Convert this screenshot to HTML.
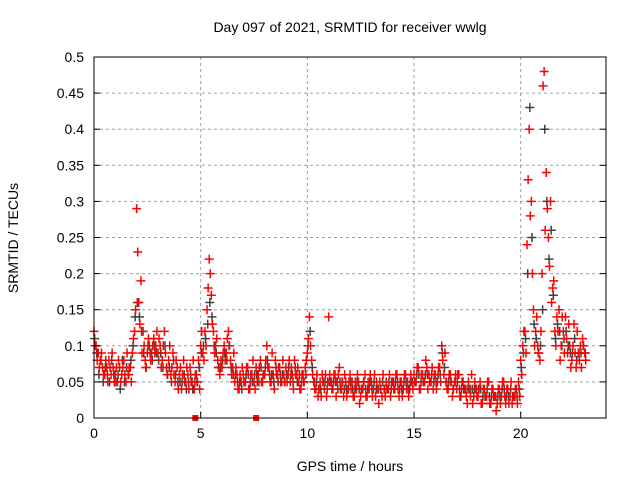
<!DOCTYPE html>
<html><head><meta charset="utf-8"><style>
body{margin:0;background:#fff;}
svg{display:block;font-family:"Liberation Sans",sans-serif;}
</style></head><body>
<svg id="chart" width="640" height="480" viewBox="0 0 640 480">
<rect width="640" height="480" fill="#fff"/>
<text x="350" y="32" font-size="14" text-anchor="middle">Day 097 of 2021, SRMTID for receiver wwlg</text>
<text x="350" y="471" font-size="14" text-anchor="middle">GPS time / hours</text>
<text x="18" y="238" font-size="14" text-anchor="middle" transform="rotate(-90 18 238)">SRMTID / TECUs</text>
<g id="grid"></g><g id="marks"></g><g id="axes"></g>
</svg>
<script>
const xTicks=[0,5,10,15,20];
const yTicks=[0,0.05,0.1,0.15,0.2,0.25,0.3,0.35,0.4,0.45,0.5];
const yTickLabels=["0","0.05","0.1","0.15","0.2","0.25","0.3","0.35","0.4","0.45","0.5"];
const startHour=0, stepHour=0.1;
const redA=[0.12,0.10,0.09,0.08,0.07,0.06,0.07,0.08,0.06,0.07,
0.06,0.05,0.07,0.06,0.08,0.05,0.06,0.07,0.09,0.12,
0.29,0.16,0.19,0.12,0.08,0.09,0.10,0.09,0.11,0.10,
0.09,0.10,0.08,0.12,0.07,0.08,0.06,0.09,0.05,0.07,
0.06,0.04,0.08,0.05,0.06,0.07,0.05,0.04,0.06,0.08,
0.10,0.09,0.12,0.15,0.22,0.17,0.12,0.10,0.08,0.06,
0.07,0.10,0.09,0.12,0.08,0.07,0.05,0.06,0.04,0.05,
0.06,0.05,0.07,0.04,0.06,0.05,0.07,0.06,0.08,0.05,
0.06,0.10,0.07,0.05,0.06,0.08,0.06,0.07,0.05,0.06,
0.07,0.06,0.05,0.06,0.08,0.06,0.05,0.04,0.06,0.07,
0.09,0.14,0.08,0.05,0.04,0.03,0.05,0.06,0.04,0.03,
0.14,0.05,0.04,0.06,0.05,0.07,0.04,0.03,0.05,0.04,
0.06,0.05,0.03,0.04,0.05,0.03,0.04,0.06,0.03,0.04,
0.05,0.04,0.03,0.04,0.05,0.03,0.04,0.05,0.04,0.03,
0.05,0.04,0.06,0.03,0.05,0.04,0.06,0.05,0.04,0.05,
0.06,0.05,0.07,0.04,0.06,0.05,0.07,0.06,0.05,0.04,
0.06,0.05,0.07,0.10,0.06,0.05,0.04,0.06,0.03,0.05,
0.04,0.06,0.03,0.05,0.04,0.02,0.04,0.06,0.03,0.04,
0.03,0.05,0.02,0.04,0.03,0.05,0.02,0.04,0.03,0.02,
0.04,0.03,0.05,0.02,0.04,0.03,0.02,0.03,0.04,0.05,
0.08,0.10,0.12,0.24,0.40,0.30,0.15,0.12,0.10,0.08,
0.20,0.48,0.34,0.25,0.30,0.18,0.12,0.14,0.15,0.10,
0.12,0.14,0.09,0.10,0.08,0.13,0.07,0.09,0.10,0.11,0.09];
const redB=[0.10,0.08,0.07,0.09,0.06,0.08,0.05,0.07,0.09,0.05,
0.07,0.08,0.05,0.07,0.06,0.09,0.07,0.05,0.11,0.15,
0.23,0.13,0.09,0.10,0.07,0.11,0.08,0.10,0.09,0.12,
0.11,0.07,0.10,0.09,0.06,0.10,0.07,0.06,0.08,0.04,
0.07,0.06,0.05,0.07,0.04,0.05,0.08,0.06,0.05,0.04,
0.12,0.08,0.10,0.18,0.20,0.13,0.09,0.11,0.07,0.08,
0.09,0.08,0.11,0.10,0.06,0.09,0.07,0.04,0.06,0.07,
0.05,0.07,0.04,0.06,0.08,0.04,0.05,0.07,0.05,0.06,
0.08,0.07,0.05,0.09,0.04,0.06,0.07,0.05,0.08,0.05,
0.05,0.08,0.07,0.04,0.06,0.07,0.04,0.06,0.05,0.08,
0.11,0.10,0.06,0.04,0.06,0.04,0.03,0.05,0.06,0.05,
0.06,0.04,0.06,0.03,0.06,0.04,0.05,0.06,0.03,0.05,
0.04,0.03,0.05,0.06,0.02,0.04,0.05,0.03,0.05,0.06,
0.03,0.06,0.05,0.02,0.04,0.06,0.03,0.04,0.06,0.05,
0.04,0.06,0.04,0.05,0.03,0.06,0.04,0.03,0.06,0.04,
0.05,0.07,0.04,0.06,0.05,0.08,0.04,0.05,0.07,0.06,
0.04,0.07,0.05,0.08,0.09,0.04,0.06,0.05,0.04,0.06,
0.06,0.03,0.05,0.04,0.03,0.05,0.03,0.02,0.05,0.03,
0.04,0.02,0.04,0.03,0.05,0.02,0.04,0.03,0.01,0.04,
0.02,0.05,0.03,0.04,0.02,0.05,0.03,0.04,0.02,0.03,
0.06,0.12,0.09,0.33,0.28,0.20,0.10,0.14,0.09,0.12,
0.46,0.26,0.29,0.21,0.16,0.19,0.10,0.12,0.08,0.14,
0.09,0.11,0.13,0.07,0.10,0.09,0.12,0.08,0.07,0.10,0.08];
const darkC=[0.11,0.09,0.06,0.08,0.05,0.07,0.06,0.05,0.08,0.06,
0.05,0.06,0.04,0.08,0.05,0.07,0.06,0.08,0.10,0.14,
0.16,0.14,0.12,0.09,0.07,0.10,0.09,0.08,0.10,0.09,
0.08,0.09,0.07,0.10,0.06,0.07,0.05,0.08,0.06,0.05,
0.05,0.05,0.06,0.04,0.05,0.06,0.04,0.05,0.05,0.07,
0.09,0.10,0.11,0.13,0.16,0.14,0.10,0.09,0.07,0.07,
0.08,0.09,0.08,0.10,0.07,0.06,0.06,0.05,0.05,0.04,
0.05,0.06,0.06,0.05,0.05,0.06,0.06,0.05,0.07,0.06,
0.07,0.08,0.06,0.06,0.05,0.07,0.05,0.06,0.06,0.05,
0.06,0.07,0.06,0.05,0.07,0.05,0.06,0.05,0.05,0.06,
0.10,0.12,0.07,0.05,0.05,0.04,0.04,0.05,0.05,0.04,
0.05,0.05,0.05,0.05,0.04,0.05,0.05,0.04,0.04,0.04,
0.05,0.04,0.04,0.05,0.04,0.04,0.05,0.04,0.04,0.05,
0.04,0.05,0.04,0.04,0.04,0.05,0.04,0.04,0.05,0.04,
0.05,0.05,0.05,0.04,0.04,0.05,0.05,0.04,0.05,0.05,
0.05,0.06,0.06,0.05,0.05,0.06,0.06,0.05,0.06,0.05,
0.05,0.06,0.06,0.09,0.07,0.05,0.05,0.05,0.04,0.05,
0.05,0.04,0.04,0.04,0.04,0.04,0.04,0.04,0.04,0.04,
0.04,0.04,0.03,0.03,0.04,0.03,0.03,0.03,0.03,0.03,
0.03,0.04,0.04,0.03,0.03,0.04,0.03,0.03,0.03,0.04,
0.07,0.09,0.11,0.20,0.43,0.25,0.13,0.11,0.09,0.10,
0.15,0.40,0.30,0.22,0.26,0.17,0.11,0.13,0.12,0.10,
0.11,0.12,0.10,0.09,0.09,0.11,0.08,0.09,0.09,0.10,0.09];
const gapHours=[4.75,7.6];

const L=94,R=606,T=57,B=418,XMAX=24,YMAX=0.5;
const xs=h=>L+(h/XMAX)*(R-L);
const ys=v=>B-(v/YMAX)*(B-T);
const NS="http://www.w3.org/2000/svg";
function mk(tag,attrs,parent){const e=document.createElementNS(NS,tag);for(const k in attrs)e.setAttribute(k,attrs[k]);parent.appendChild(e);return e;}
const grid=document.getElementById('grid'),marks=document.getElementById('marks'),axes=document.getElementById('axes');
xTicks.forEach(t=>{
 if(t>0){const g=mk('line',{x1:xs(t),x2:xs(t),y1:T,y2:B,stroke:'#a0a0a0','stroke-dasharray':'3,3'},grid);
 
 }
 const tl=mk('line',{x1:xs(t),x2:xs(t),y1:B,y2:B-6,stroke:'#000'},axes);
 
 
 const tx=mk('text',{x:xs(t),y:B+20,'font-size':14,'text-anchor':'middle'},axes);tx.textContent=t;
 
 
});
yTicks.forEach((t,i)=>{
 if(t>0&&t<YMAX){const g=mk('line',{x1:L,x2:R,y1:ys(t),y2:ys(t),stroke:'#a0a0a0','stroke-dasharray':'3,3'},grid);
 
 }
 const tl=mk('line',{x1:L,x2:L+6,y1:ys(t),y2:ys(t),stroke:'#000'},axes);
 
 
 const tr=mk('line',{x1:R,x2:R-6,y1:ys(t),y2:ys(t),stroke:'#000'},axes);
 
 
 const tx=mk('text',{x:L-10,y:ys(t)+5,'font-size':14,'text-anchor':'end'},axes);tx.textContent=yTickLabels[i];
 
 
});
const frame=mk('rect',{x:L,y:T,width:R-L,height:B-T,fill:'none',stroke:'#000'},axes);


function plus(h,v,color,name){
 const x=xs(h),y=ys(v);
 const p=mk('path',{d:`M${x-4.5} ${y}H${x+4.5}M${x} ${y-4.5}V${y+4.5}`,stroke:color,'stroke-width':1.5,fill:'none'},marks);
 
 
}
darkC.forEach((v,i)=>plus(startHour+i*stepHour+0.03,v,'#404040','dark-point'));
redA.forEach((v,i)=>plus(startHour+i*stepHour,v,'#ff0000','red-point'));
redB.forEach((v,i)=>plus(startHour+i*stepHour+0.05,v,'#ff0000','red-point'));
gapHours.forEach(h=>{
 const r=mk('rect',{x:xs(h)-3,y:B-3,width:6,height:6,fill:'#ff0000'},marks);
 
 
});
</script>
</body></html>
